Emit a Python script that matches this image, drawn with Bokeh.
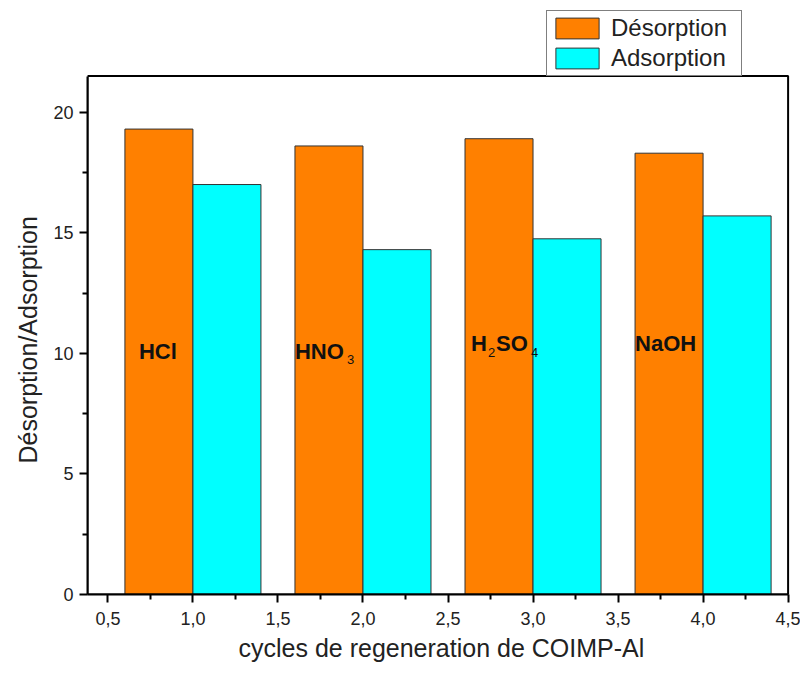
from bokeh.plotting import figure
from bokeh.models import (ColumnDataSource, Legend, LegendItem, FixedTicker, CustomJSTickFormatter,
                          Range1d, BoxAnnotation, Title)
from bokeh.core.properties import value
from bokeh.transform import dodge
from bokeh.embed import file_html
from bokeh.resources import INLINE

cycles = [1.0, 2.0, 3.0, 4.0]
desorption = [19.3, 18.6, 18.9, 18.3]
adsorption = [17.0, 14.3, 14.75, 15.7]
x_ticks = [0.5, 1.0, 1.5, 2.0, 2.5, 3.0, 3.5, 4.0, 4.5]
y_ticks = [0, 5, 10, 15, 20]

# reagent labels: main text pieces and subscripts
main_text = ["HCl", "HNO", "H", "SO", "NaOH"]
main_x = [0.8, 1.8, 2.8, 2.8, 3.8]
main_dx = [-20, -34, -28, -3, -34]
main_y = [10.08, 10.08, 10.4, 10.4, 10.4]
sub_text = ["3", "2", "4"]
sub_x = [1.8, 2.8, 2.8]
sub_dx = [18, -11, 32]
sub_y = [9.75, 10.05, 10.05]

X0, X1, XF = 0.38, 4.5, 4.52
Y0, Y1, YF = 0.0, 21.5, 24.3

W, H = 800, 672
p = figure(width=W, height=H, output_backend="svg", toolbar_location=None,
           x_range=Range1d(X0, XF), y_range=Range1d(Y0, YF),
           min_border_left=87, min_border_right=9, min_border_top=8, min_border_bottom=78)
p.grid.visible = False
p.outline_line_color = None

src = ColumnDataSource(dict(x=cycles, d=desorption, a=adsorption))
bw = 0.4
rd = p.vbar(x=dodge("x", -0.2, range=p.x_range), top="d", width=bw, source=src,
            fill_color="#FF8000", line_color="#333333", line_width=1)
ra = p.vbar(x=dodge("x", 0.2, range=p.x_range), top="a", width=bw, source=src,
            fill_color="#00FFFF", line_color="#333333", line_width=1)

msrc = ColumnDataSource(dict(x=main_x, y=main_y, t=main_text, dx=main_dx))
p.text(x="x", y="y", text="t", x_offset="dx", source=msrc, text_font=value("Liberation Sans"),
       text_font_style="bold", text_font_size="22px", text_color="#111111",
       text_baseline="alphabetic", text_align="left")
ssrc = ColumnDataSource(dict(x=sub_x, y=sub_y, t=sub_text, dx=sub_dx))
p.text(x="x", y="y", text="t", x_offset="dx", source=ssrc, text_font=value("Liberation Sans"),
       text_font_size="13px", text_color="#111111",
       text_baseline="alphabetic", text_align="left")

# plot frame box
frame = BoxAnnotation(left=X0, right=X1, bottom=Y0, top=Y1, fill_alpha=0,
                      line_color="black", line_width=2, line_alpha=1)
p.add_layout(frame)

for ax in (p.xaxis[0], p.yaxis[0]):
    ax.axis_line_width = 2
    ax.major_tick_line_width = 2
    ax.minor_tick_line_width = 2
    ax.major_tick_in = 0
    ax.major_tick_out = 8
    ax.minor_tick_in = 0
    ax.minor_tick_out = 5
    ax.major_label_text_font = "Liberation Sans"
    ax.major_label_text_font_size = "18px"
    ax.major_label_text_color = "#222222"
    ax.major_label_standoff = 6

p.xaxis.major_label_standoff = 9
p.xaxis.ticker = FixedTicker(ticks=x_ticks, minor_ticks=[0.75 + 0.5 * i for i in range(8)])
p.yaxis.ticker = FixedTicker(ticks=y_ticks, minor_ticks=[2.5, 7.5, 12.5, 17.5])
p.xaxis.formatter = CustomJSTickFormatter(code="return tick.toFixed(1).replace('.', ',');")
p.xaxis.bounds = (X0, X1)
p.yaxis.bounds = (Y0, Y1)

# axis titles as offset titles
xt = Title(text="cycles de regeneration de COIMP-Al", align="left", offset=151,
           text_font="Liberation Sans", text_font_size="25px", text_font_style="normal",
           text_color="#222222", standoff=8)
p.add_layout(xt, "below")
yt = Title(text="Désorption/Adsorption", align="left", offset=131,
           text_font="Liberation Sans", text_font_size="25px", text_font_style="normal",
           text_color="#222222", standoff=18)
p.add_layout(yt, "left")

legend = Legend(items=[LegendItem(label="Désorption", renderers=[rd]),
                       LegendItem(label="Adsorption", renderers=[ra])],
                location=(459, 518))
legend.border_line_color = "black"
legend.border_line_width = 1
legend.label_text_font = "Liberation Sans"
legend.label_text_font_size = "24px"
legend.label_text_color = "#222222"
legend.glyph_width = 54
legend.glyph_height = 26
legend.label_width = 127
legend.spacing = 2
legend.padding = 3
legend.margin = 0
legend.label_standoff = 7
legend.background_fill_alpha = 1
p.add_layout(legend, "center")

open("out.html", "w").write(file_html(p, INLINE))
